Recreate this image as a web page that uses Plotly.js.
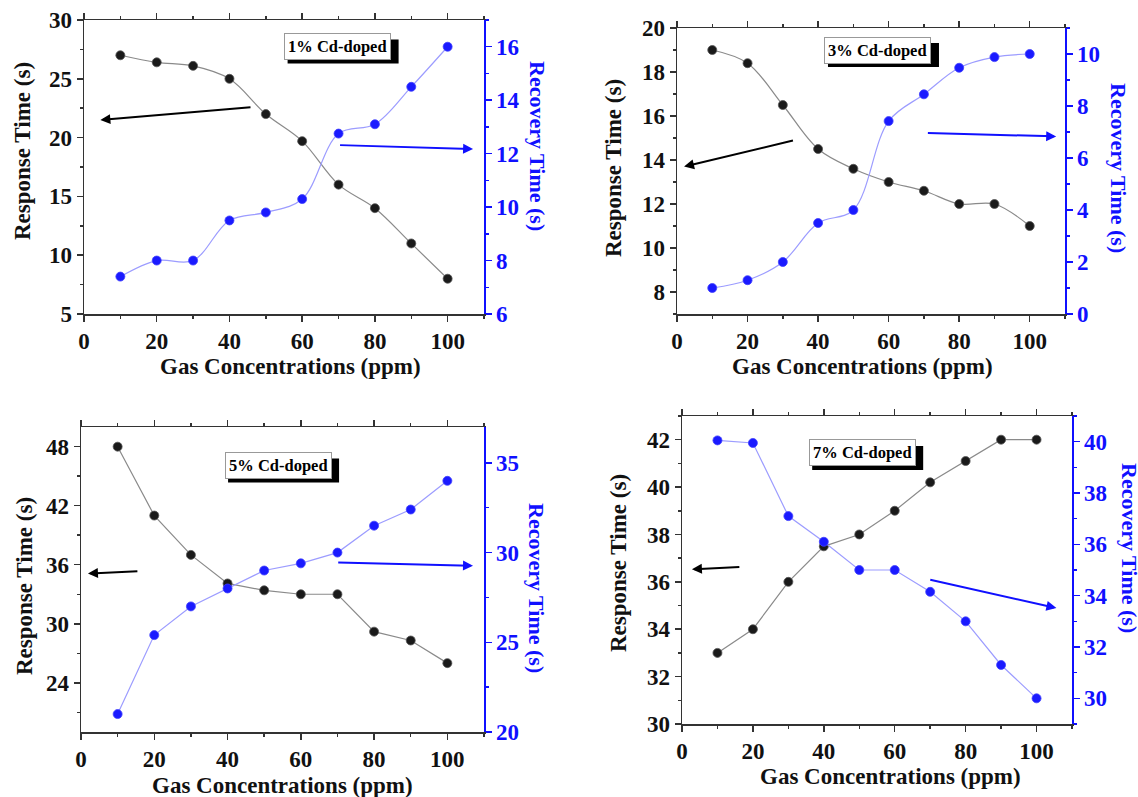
<!DOCTYPE html>
<html><head><meta charset="utf-8">
<script src="https://cdn.plot.ly/plotly-3.0.1.min.js"></script>
<style>html,body{margin:0;padding:0;background:#fff;}#chart{width:1138px;height:797px;}</style>
</head><body><div id="chart"></div>
<script>
// ---- data ----
const conc = [10,20,30,40,50,60,70,80,90,100];
const xTickVals = [0,20,40,60,80,100];
const resp1 = [27,26.4,26.1,25,22,19.7,16,14,11,8];
const rec1  = [7.4,8,8,9.5,9.8,10.3,12.75,13.1,14.5,16];
const resp3 = [19,18.4,16.5,14.5,13.6,13,12.6,12,12,11];
const rec3  = [1,1.3,2,3.5,4,7.42,8.45,9.47,9.88,10];
const resp5 = [48,41,37,34.1,33.4,33,33,29.2,28.3,26];
const rec5  = [21,25.4,27,28,29,29.4,30,31.5,32.4,34];
const resp7 = [33,34,36,37.5,38,39,40.2,41.1,42,42];
const rec7  = [40.05,39.95,37.1,36.1,35,35,34.15,33,31.3,30];
const panelLabels = ['1% Cd-doped','3% Cd-doped','5% Cd-doped','7% Cd-doped'];
const xTitle = 'Gas Concentrations (ppm)';
const yLeftTitle = 'Response Time (s)';
const yRightTitle = 'Recovery Time (s)';

// ---- layout helpers ----
const W = 1138, H = 797;
const px = v => v / W;
const py = v => 1 - v / H;
const FONT = '"Liberation Serif", "Times New Roman", serif';
const BLUE = '#1010ff';
const tf = (c) => ({family: FONT, size: 23, color: c, weight: 700});

function xaxisCfg(dom, anchor) {
  return {domain: dom, anchor: anchor, range: [0,110], tickvals: xTickVals,
    ticks: 'outside', ticklen: 6, tickwidth: 1.5, tickcolor: '#333',
    minor: {ticks: 'outside', ticklen: 3, tickvals: [10,30,50,70,90,110], tickcolor: '#333'},
    showline: true, linecolor: '#333', linewidth: 1.5, mirror: 'ticks',
    showgrid: false, zeroline: false, tickfont: tf('#111')};
}
function yLeftCfg(dom, anchor, range, dtick, mdtick) {
  return {domain: dom, anchor: anchor, range: range, dtick: dtick, tick0: 0,
    ticks: 'outside', ticklen: 6, tickwidth: 1.5, tickcolor: '#333',
    minor: {ticks: 'outside', ticklen: 3, dtick: mdtick, tick0: 0, tickcolor: '#333'},
    showline: true, linecolor: '#333', linewidth: 1.5,
    showgrid: false, zeroline: false, tickfont: tf('#111')};
}
function yRightCfg(over, anchor, range, dtick, mdtick) {
  return {overlaying: over, anchor: anchor, side: 'right', range: range, dtick: dtick, tick0: 0,
    ticks: 'outside', ticklen: 6, tickwidth: 1.5, tickcolor: BLUE,
    minor: {ticks: 'outside', ticklen: 3, dtick: mdtick, tick0: 0, tickcolor: BLUE},
    showline: true, linecolor: BLUE, linewidth: 1.5,
    showgrid: false, zeroline: false, tickfont: tf(BLUE)};
}

const panels = [
  {resp: resp1, rec: rec1, shape: 'spline'},
  {resp: resp3, rec: rec3, shape: 'spline'},
  {resp: resp5, rec: rec5, shape: 'linear'},
  {resp: resp7, rec: rec7, shape: 'linear'}
];
const traces = [];
panels.forEach((p, i) => {
  const xa = i === 0 ? 'x' : 'x' + (i + 1);
  const yl = i === 0 ? 'y' : 'y' + (2 * i + 1);
  const yr = 'y' + (2 * i + 2);
  traces.push({x: conc, y: p.resp, xaxis: xa, yaxis: yl, type: 'scatter', mode: 'lines+markers',
    line: {color: '#8a8a8a', width: 1.2, shape: p.shape, smoothing: 1},
    marker: {color: '#1a1a1a', size: 9, line: {color: '#555', width: 0.8}}, showlegend: false});
  traces.push({x: conc, y: p.rec, xaxis: xa, yaxis: yr, type: 'scatter', mode: 'lines+markers',
    line: {color: '#9c9cff', width: 1.2, shape: p.shape, smoothing: 1},
    marker: {color: '#1a1aff', size: 9, line: {color: '#4040ff', width: 0.8}}, showlegend: false});
});

const layout = {
  width: W, height: H, margin: {l: 0, r: 0, t: 0, b: 0},
  paper_bgcolor: '#fff', plot_bgcolor: '#fff', showlegend: false,
  xaxis:  xaxisCfg([px(84), px(484)], 'y'),
  yaxis:  yLeftCfg([py(314), py(20)], 'x', [5,30], 5, 2.5),
  yaxis2: yRightCfg('y', 'x', [6,17], 2, 1),
  xaxis2: xaxisCfg([px(677), px(1065)], 'y3'),
  yaxis3: yLeftCfg([py(314), py(28)], 'x2', [7,20], 2, 1),
  yaxis4: yRightCfg('y3', 'x2', [0,11], 2, 1),
  xaxis3: xaxisCfg([px(81), px(484)], 'y5'),
  yaxis5: yLeftCfg([py(732), py(427)], 'x3', [19,50], 6, 3),
  yaxis6: yRightCfg('y5', 'x3', [20,37], 5, 2.5),
  xaxis4: xaxisCfg([px(682), px(1072)], 'y7'),
  yaxis7: yLeftCfg([py(724), py(416)], 'x4', [30,43], 2, 1),
  yaxis8: yRightCfg('y7', 'x4', [29,41], 2, 1),
  annotations: [],
  shapes: []
};

const A = layout.annotations;
// axis titles
const xT = [[290,366],[862,366],[282,785],[890,776]];
const yLT = [[22,151],[613,168],[24,586],[618,563]];
const yRT = [[538,146],[1119,168],[537,588],[1130,548]];
for (let i = 0; i < 4; i++) {
  A.push({xref:'paper', yref:'paper', x: px(xT[i][0]), y: py(xT[i][1]), text: xTitle, showarrow:false,
    xanchor:'center', yanchor:'middle', font: {family: FONT, size: 23, color: '#111', weight: 700}});
  A.push({xref:'paper', yref:'paper', x: px(yLT[i][0]), y: py(yLT[i][1]), text: yLeftTitle, showarrow:false,
    textangle: -90, xanchor:'center', yanchor:'middle', font: {family: FONT, size: 23, color: '#111', weight: 700}});
  A.push({xref:'paper', yref:'paper', x: px(yRT[i][0]), y: py(yRT[i][1]), text: yRightTitle, showarrow:false,
    textangle: 90, xanchor:'center', yanchor:'middle', font: {family: FONT, size: 22, color: BLUE, weight: 700}});
}
// panel label boxes (shadow drawn as a pixel-sized shape behind each box)
const lab = [[0.634,0.91,'x','y'],[0.518,0.923,'x2','y3'],[0.489,0.874,'x3','y5'],[0.462,0.88,'x4','y7']];
lab.forEach((l, i) => {
  layout.shapes.push({type: 'rect', xref: l[2] + ' domain', yref: l[3] + ' domain',
    xsizemode: 'pixel', ysizemode: 'pixel', xanchor: l[0], yanchor: l[1],
    x0: -50, x1: 61, y0: -17, y1: 7, fillcolor: '#000', line: {width: 0}, layer: 'above'});
  A.push({xref: l[2] + ' domain', yref: l[3] + ' domain', x: l[0], y: l[1], text: panelLabels[i],
    showarrow: false, xanchor: 'center', yanchor: 'middle', borderpad: 3, borderwidth: 1,
    bgcolor: '#fff', bordercolor: '#999',
    font: {family: FONT, size: 16.5, color: '#000', weight: 700}});
});
// indicator arrows
const arrows = [
  ['x','y',4.5,21.5,46.2,22.6,'#000'], ['x','y2',107,12.17,70,12.32,BLUE],
  ['x2','y3',2,13.7,33.3,14.9,'#000'], ['x2','y4',107.5,6.83,70.7,6.96,BLUE],
  ['x3','y5',1.9,35.1,15.8,35.35,'#000'], ['x3','y6',107,29.27,69.8,29.45,BLUE],
  ['x4','y7',2.8,36.53,16.6,36.63,'#000'], ['x4','y8',105.6,33.52,69.6,34.63,BLUE]
];
arrows.forEach(a => {
  A.push({xref: a[0], yref: a[1], axref: a[0], ayref: a[1], x: a[2], y: a[3], ax: a[4], ay: a[5],
    text: '', showarrow: true, arrowhead: 2, arrowsize: 1, arrowwidth: 2, arrowcolor: a[6]});
});

Plotly.newPlot('chart', traces, layout, {staticPlot: true});
</script>
</body></html>
